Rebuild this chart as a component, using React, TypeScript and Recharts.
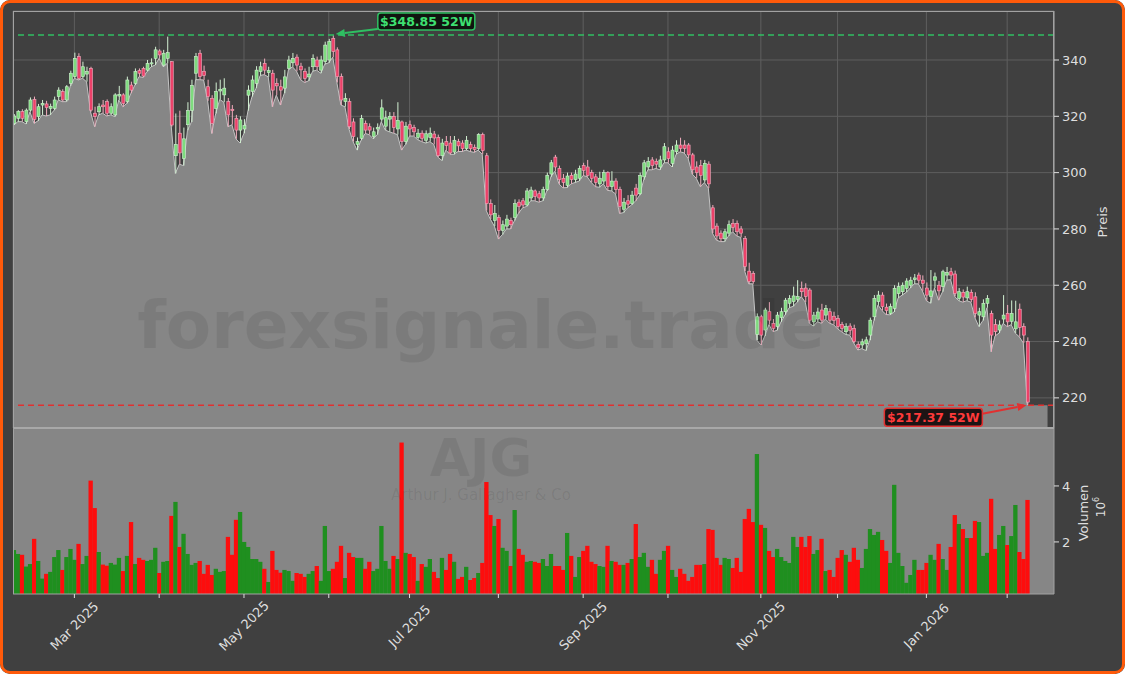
import React from 'react'
import {
  ComposedChart,
  Bar,
  Area,
  XAxis,
  YAxis,
  CartesianGrid,
  ReferenceLine,
  ReferenceDot,
  ReferenceArea,
} from 'recharts'

// trading calendar
const FIRST_DAY = '2025-02-07'
const LAST_DAY = '2026-02-09'
const HOLIDAYS = [
  '2025-02-17', '2025-04-18', '2025-05-26', '2025-06-19', '2025-07-04',
  '2025-09-01', '2025-11-27', '2025-12-25', '2026-01-01', '2026-01-19',
]
const MONTHS = ['Jan', 'Feb', 'Mar', 'Apr', 'May', 'Jun', 'Jul', 'Aug', 'Sep', 'Oct', 'Nov', 'Dec']

// daily OHLC (USD)
const opens = [
  317.5, 319.3, 321.7, 318.1, 322.2, 326.0, 319.9, 324.0, 324.4, 322.8,
  322.8, 327.0, 328.8, 325.8, 331.7, 334.1, 341.2, 334.1, 335.0, 337.0,
  321.1, 321.6, 324.0, 325.2, 321.1, 320.5, 327.2, 327.6, 325.2, 331.1,
  331.7, 336.2, 337.0, 336.4, 338.6, 340.6, 343.2, 338.2, 340.6, 339.4,
  306.0, 314.0, 305.0, 317.0, 322.0, 335.3, 342.4, 336.0, 330.5, 326.4,
  322.8, 329.0, 327.6, 325.2, 322.5, 319.3, 315.1, 315.5, 327.5, 328.8,
  331.7, 335.9, 338.8, 335.5, 335.3, 331.7, 330.5, 330.0, 337.0, 339.0,
  341.0, 337.8, 335.9, 334.0, 337.6, 340.0, 336.4, 339.4, 340.0, 347.7,
  343.6, 334.1, 325.2, 325.2, 318.0, 310.0, 312.2, 317.5, 316.3, 312.8,
  315.5, 319.0, 316.5, 319.0, 320.0, 315.5, 318.0, 311.0, 317.0, 316.0,
  312.5, 314.0, 311.5, 312.5, 313.7, 312.5, 306.0, 311.0, 310.5, 307.3,
  311.0, 310.5, 308.5, 310.0, 309.0, 308.5, 313.5, 306.0, 289.0, 283.0,
  284.0, 279.5, 281.0, 283.0, 284.0, 289.5, 290.0, 288.5, 291.0, 293.5,
  292.5, 291.0, 294.0, 299.5, 305.5, 301.5, 298.0, 295.5, 299.0, 297.5,
  298.0, 302.5, 302.0, 300.0, 298.5, 296.0, 297.0, 300.0, 295.0, 297.0,
  294.0, 287.0, 290.0, 289.0, 294.5, 292.5, 298.5, 302.0, 304.5, 304.0,
  302.0, 304.5, 307.4, 303.3, 307.4, 309.8, 309.8, 309.8, 306.3, 302.0,
  302.5, 297.4, 303.0, 287.5, 281.0, 278.5, 276.5, 278.5, 282.0, 282.0,
  280.0, 276.6, 265.0, 264.2, 242.5, 248.8, 244.1, 250.6, 246.4, 245.3,
  248.5, 250.6, 253.6, 254.2, 255.0, 258.9, 259.0, 258.3, 247.0, 248.0,
  251.2, 249.4, 250.6, 249.0, 248.2, 246.0, 243.5, 245.5, 244.7, 239.0,
  238.8, 239.2, 242.3, 248.8, 254.2, 256.5, 252.2, 250.0, 251.8, 257.0,
  257.7, 258.9, 260.0, 262.0, 263.6, 261.8, 259.0, 256.0, 261.8, 260.0,
  259.5, 263.6, 264.8, 264.0, 255.3, 257.5, 255.5, 257.5, 255.9, 249.4,
  248.8, 253.6, 250.0, 246.0, 244.1, 248.0, 250.0, 247.2, 244.5, 251.5,
  245.3, 240.0,
]

const highs = [
  320.8, 322.2, 322.5, 322.8, 326.7, 327.0, 324.4, 325.8, 325.5, 324.5,
  327.0, 330.3, 329.6, 331.1, 336.2, 342.6, 342.4, 339.4, 337.6, 337.6,
  323.4, 324.6, 325.8, 326.0, 324.6, 328.2, 330.8, 328.2, 334.1, 332.3,
  337.0, 337.0, 337.6, 340.0, 340.6, 344.7, 343.8, 343.6, 348.3, 339.6,
  321.0, 322.0, 316.0, 325.0, 333.0, 342.5, 343.6, 338.0, 333.0, 327.5,
  332.0, 333.0, 333.5, 326.5, 324.0, 320.5, 320.0, 319.0, 331.0, 334.5,
  337.8, 339.4, 340.5, 337.6, 336.5, 333.5, 333.0, 336.5, 341.5, 342.5,
  342.0, 339.0, 337.0, 337.6, 342.0, 341.2, 341.5, 346.5, 347.5, 348.85,
  344.5, 335.2, 328.2, 326.4, 319.3, 312.5, 320.5, 318.5, 317.5, 316.0,
  317.5, 326.0, 322.0, 321.5, 321.5, 325.0, 318.5, 318.0, 318.5, 317.0,
  315.5, 315.0, 315.0, 316.0, 314.8, 313.5, 312.0, 313.0, 313.0, 313.0,
  312.0, 311.5, 313.0, 311.0, 310.0, 314.0, 314.2, 307.0, 290.5, 288.5,
  285.0, 283.0, 285.0, 284.0, 290.5, 290.5, 291.0, 294.5, 295.0, 294.0,
  293.5, 295.0, 300.0, 304.5, 306.3, 302.5, 299.5, 300.0, 300.0, 301.0,
  302.5, 303.5, 304.5, 301.0, 299.5, 300.3, 301.0, 300.5, 300.5, 298.0,
  295.0, 291.0, 292.0, 293.5, 296.0, 300.0, 304.5, 305.5, 305.5, 305.0,
  306.0, 310.5, 309.0, 309.5, 311.5, 312.4, 311.5, 310.5, 307.0, 304.0,
  304.5, 304.5, 304.0, 288.5, 282.0, 279.5, 280.0, 283.0, 283.5, 283.0,
  281.0, 277.5, 268.0, 265.0, 250.0, 249.5, 252.0, 254.0, 248.0, 250.5,
  252.0, 255.5, 256.5, 259.5, 261.8, 261.3, 260.7, 259.0, 250.5, 252.0,
  253.4, 253.0, 251.8, 250.6, 249.4, 247.0, 246.5, 246.5, 246.0, 240.0,
  241.0, 241.7, 248.5, 256.5, 258.0, 257.5, 253.5, 253.5, 260.0, 261.0,
  261.0, 262.5, 263.0, 264.0, 264.5, 263.5, 261.0, 265.4, 264.5, 261.5,
  265.5, 266.5, 266.2, 265.2, 259.0, 258.5, 259.5, 258.5, 257.5, 252.0,
  255.0, 256.5, 251.0, 248.0, 247.5, 256.5, 253.0, 254.6, 254.5, 253.5,
  246.5, 241.5,
]

const lows = [
  316.9, 318.1, 318.1, 317.3, 321.6, 317.5, 318.4, 320.5, 320.1, 320.5,
  322.2, 325.8, 325.2, 325.2, 330.8, 333.5, 332.9, 333.5, 332.3, 321.6,
  316.3, 320.5, 321.1, 320.1, 320.5, 319.9, 325.8, 323.4, 324.6, 328.2,
  331.1, 334.1, 333.8, 335.9, 337.6, 338.2, 340.6, 337.6, 338.8, 316.3,
  299.7, 303.0, 302.5, 315.0, 318.0, 333.0, 333.0, 332.9, 325.5, 313.9,
  321.0, 326.0, 325.0, 316.3, 317.0, 312.0, 310.5, 314.0, 322.0, 327.0,
  330.0, 334.5, 334.8, 334.0, 323.4, 327.5, 324.0, 328.2, 336.5, 337.6,
  336.0, 333.0, 332.0, 332.6, 336.0, 336.4, 335.3, 338.5, 339.0, 341.0,
  332.0, 324.0, 323.4, 315.5, 311.0, 308.0, 311.5, 313.9, 313.5, 312.0,
  313.5, 318.1, 315.1, 314.5, 314.0, 313.5, 308.0, 310.0, 313.0, 313.0,
  311.7, 311.0, 310.5, 311.0, 310.0, 305.5, 304.3, 308.0, 306.5, 306.5,
  307.5, 307.5, 308.0, 307.5, 307.2, 308.0, 306.5, 286.5, 283.5, 281.0,
  276.4, 278.0, 280.0, 280.0, 283.0, 285.6, 287.5, 288.0, 290.0, 290.0,
  289.5, 290.0, 293.5, 298.5, 300.5, 296.0, 294.6, 294.7, 296.0, 296.5,
  297.0, 299.0, 298.5, 296.5, 295.0, 294.8, 296.0, 293.7, 293.5, 292.5,
  285.5, 285.8, 287.5, 288.5, 290.0, 292.0, 297.5, 301.0, 301.0, 301.5,
  301.0, 303.5, 303.5, 302.0, 306.5, 307.4, 307.0, 305.0, 299.5, 298.0,
  295.0, 296.5, 294.5, 278.5, 276.0, 275.5, 275.5, 277.5, 279.0, 277.5,
  277.0, 265.0, 260.5, 260.5, 240.5, 238.8, 242.0, 246.0, 243.5, 244.0,
  247.0, 249.5, 252.0, 252.5, 254.0, 256.0, 254.0, 246.5, 245.5, 247.0,
  246.5, 248.0, 246.5, 246.0, 244.5, 243.5, 242.5, 242.3, 239.5, 237.0,
  237.5, 236.8, 240.5, 247.5, 253.0, 251.0, 249.6, 249.5, 250.5, 255.5,
  256.5, 257.5, 259.0, 260.5, 260.5, 258.0, 254.5, 253.6, 259.0, 254.7,
  257.7, 261.8, 262.0, 256.0, 254.5, 254.0, 254.5, 254.0, 248.5, 245.3,
  247.5, 252.0, 236.4, 242.0, 243.0, 246.5, 245.3, 246.0, 243.0, 241.7,
  239.5, 217.37,
]

const closes = [
  320.1, 321.7, 319.3, 322.2, 325.8, 318.9, 323.4, 324.6, 323.1, 323.5,
  325.8, 329.3, 325.8, 330.5, 335.3, 340.6, 333.5, 337.6, 336.0, 322.2,
  319.9, 323.4, 323.4, 321.1, 323.4, 327.6, 327.8, 324.6, 332.9, 329.3,
  335.9, 335.3, 334.3, 338.8, 339.0, 343.6, 341.8, 342.4, 342.6, 316.9,
  310.0, 307.0, 312.0, 322.0, 331.0, 341.2, 334.1, 334.5, 327.0, 317.5,
  328.8, 329.6, 330.0, 320.5, 322.0, 315.1, 318.7, 316.8, 329.3, 332.9,
  336.4, 337.6, 336.4, 336.2, 329.3, 330.8, 329.3, 334.0, 340.0, 340.6,
  338.2, 336.5, 333.5, 335.0, 340.6, 337.6, 340.0, 345.3, 346.5, 343.0,
  334.1, 325.8, 326.4, 316.3, 312.8, 311.0, 319.3, 315.1, 315.1, 314.5,
  316.0, 323.0, 319.5, 320.0, 316.0, 318.5, 311.0, 316.5, 315.5, 314.5,
  314.0, 312.2, 313.8, 314.0, 312.3, 306.0, 310.5, 309.6, 307.0, 311.5,
  309.5, 308.5, 311.5, 308.5, 308.2, 313.5, 307.8, 289.0, 285.0, 285.5,
  279.5, 281.5, 283.5, 281.5, 289.0, 288.0, 288.5, 293.5, 293.8, 291.5,
  291.0, 294.0, 299.0, 303.5, 302.0, 297.5, 296.5, 298.8, 297.5, 299.5,
  301.5, 300.8, 299.0, 298.0, 296.5, 298.0, 300.0, 295.0, 297.0, 294.0,
  288.0, 289.5, 288.8, 292.0, 292.0, 299.0, 303.5, 303.9, 302.5, 303.0,
  304.5, 309.2, 305.0, 308.0, 309.8, 308.6, 308.6, 306.3, 301.0, 300.0,
  299.0, 303.3, 296.0, 280.0, 277.5, 276.5, 279.0, 281.5, 280.5, 279.0,
  278.5, 266.6, 261.3, 261.3, 248.8, 242.3, 251.2, 247.6, 244.7, 249.4,
  250.6, 254.7, 255.3, 256.2, 256.0, 257.7, 256.0, 247.6, 249.4, 250.5,
  247.6, 251.8, 247.6, 247.5, 245.3, 244.7, 245.3, 244.0, 240.0, 237.8,
  239.9, 240.6, 247.6, 255.3, 256.5, 252.4, 251.0, 252.4, 258.9, 259.5,
  260.0, 261.5, 261.8, 262.6, 261.8, 260.7, 256.5, 258.0, 263.0, 258.0,
  264.8, 264.5, 263.6, 257.1, 257.7, 255.8, 257.7, 255.0, 250.0, 250.6,
  253.6, 255.3, 242.3, 243.5, 245.9, 249.4, 247.0, 250.0, 247.0, 245.0,
  242.3, 218.5,
]

// daily volume, millions of shares
const volumes = [
  1.71, 1.57, 1.54, 1.12, 1.21, 2.11, 1.32, 0.69, 0.86, 0.93,
  1.46, 1.71, 1.00, 1.46, 1.75, 1.36, 1.93, 1.21, 1.50, 4.19,
  3.21, 1.64, 1.19, 1.15, 1.25, 1.19, 1.43, 0.96, 1.50, 2.71,
  1.21, 1.43, 1.36, 1.32, 1.36, 1.79, 0.89, 1.29, 1.32, 2.93,
  3.43, 1.82, 2.29, 1.57, 1.18, 1.25, 1.32, 0.86, 1.18, 0.82,
  1.04, 0.93, 0.96, 2.18, 1.54, 2.79, 3.07, 2.00, 1.82, 1.39,
  1.39, 1.29, 1.04, 0.57, 1.68, 1.00, 0.90, 1.00, 0.96, 0.61,
  0.89, 0.86, 0.75, 0.86, 0.96, 1.14, 0.61, 2.57, 0.96, 1.04,
  1.29, 1.86, 0.71, 1.61, 1.46, 1.43, 1.43, 1.04, 1.29, 0.96,
  1.04, 2.57, 1.32, 1.04, 1.50, 1.39, 5.55, 1.61, 1.57, 1.46,
  0.61, 1.21, 1.11, 1.39, 0.93, 0.71, 1.43, 1.00, 1.57, 1.29,
  0.68, 0.75, 1.11, 0.64, 0.71, 0.89, 1.25, 4.14, 2.96, 2.57,
  2.82, 1.79, 1.68, 1.14, 3.14, 1.75, 1.54, 1.29, 1.32, 1.29,
  1.25, 1.39, 1.14, 1.57, 1.14, 1.14, 1.00, 2.32, 1.50, 0.75,
  1.46, 1.68, 1.86, 1.29, 1.21, 1.14, 1.11, 1.86, 1.32, 1.29,
  1.18, 1.18, 1.25, 1.39, 2.64, 1.46, 1.61, 1.11, 1.36, 0.86,
  1.36, 1.68, 1.86, 1.00, 0.75, 1.04, 0.86, 0.61, 0.75, 1.18,
  1.18, 1.21, 2.46, 2.43, 1.43, 1.18, 1.43, 1.39, 1.07, 1.43,
  0.93, 2.82, 3.18, 2.71, 5.14, 2.61, 2.50, 1.68, 1.46, 1.75,
  1.46, 1.32, 1.25, 2.18, 1.82, 2.18, 1.82, 2.21, 1.57, 1.71,
  2.11, 0.96, 1.00, 0.75, 1.43, 1.71, 1.54, 1.29, 1.79, 1.36,
  1.07, 1.75, 2.46, 2.25, 2.36, 2.07, 1.68, 1.25, 4.04, 1.61,
  1.14, 0.54, 0.82, 1.36, 1.00, 1.00, 1.25, 1.54, 1.36, 1.93,
  1.39, 1.00, 1.82, 2.96, 2.64, 2.46, 2.14, 2.14, 2.75, 2.71,
  1.50, 1.61, 3.54, 1.75, 2.25, 2.57, 1.89, 2.21, 3.32, 1.64,
  1.39, 3.50,
]

const PRICE_TICKS = [220, 240, 260, 280, 300, 320, 340]
const VOLUME_TICKS = [2, 4]
const HIGH_52W = 348.85
const LOW_52W = 217.37

const BG = '#404040'
const FILL = '#868686'
const GRID = '#5e5e5e'
const SPINE = '#a2a2a2'
const TEXT = '#dedede'
const UP_BODY = '#7edc7e'
const UP_EDGE = '#d2f0d2'
const DOWN_BODY = '#ec4169'
const DOWN_EDGE = '#f2adbe'
const VOL_UP = '#1f8f1f'
const VOL_DOWN = '#fd0d0d'
const HIGH_COLOR = '#2fbf62'
const LOW_COLOR = '#e23030'

function tradingDays(from: string, to: string): string[] {
  const out: string[] = []
  const d = new Date(from + 'T00:00:00Z')
  const end = new Date(to + 'T00:00:00Z')
  while (d <= end) {
    const iso = d.toISOString().slice(0, 10)
    const wd = d.getUTCDay()
    if (wd !== 0 && wd !== 6 && !HOLIDAYS.includes(iso)) out.push(iso)
    d.setUTCDate(d.getUTCDate() + 1)
  }
  return out
}

const dates = tradingDays(FIRST_DAY, LAST_DAY)
const data = dates.map((date, i) => ({
  i,
  date,
  open: opens[i],
  high: highs[i],
  low: lows[i],
  close: closes[i],
  volume: volumes[i],
  range: [lows[i], highs[i]],
}))
const lastIdx = data.length - 1
const highIdx = highs.indexOf(Math.max(...highs))

const monthStarts = data
  .filter((d, i) => i > 0 && d.date.slice(5, 7) !== data[i - 1].date.slice(5, 7))
  .map((d) => d.i)

const X_DOMAIN = [-0.2, 257.6]
const PRICE_DOMAIN = [209.3, 357.4]
const VOLUME_DOMAIN = [0.14, 6.07]
const FONT = 'DejaVu Sans, sans-serif'

function Candle(props: any) {
  const { x, y, width, height, payload } = props
  if (!payload) return null
  const { open, close, high, low } = payload
  const top = Math.min(y, y + height)
  const h = Math.abs(height)
  const up = close >= open
  const pxPer = h / Math.max(high - low, 0.01)
  const yO = top + (high - open) * pxPer
  const yC = top + (high - close) * pxPer
  const cx = x + width / 2
  return (
    <g>
      <line x1={cx} x2={cx} y1={top} y2={top + h} stroke={up ? UP_EDGE : DOWN_EDGE} strokeWidth={1} />
      <rect
        x={x}
        y={Math.min(yO, yC)}
        width={width}
        height={Math.max(Math.abs(yO - yC), 0.8)}
        fill={up ? UP_BODY : DOWN_BODY}
        stroke={up ? UP_EDGE : DOWN_EDGE}
        strokeWidth={0.6}
      />
    </g>
  )
}

function VolumeBar(props: any) {
  const { x, y, width, height, payload } = props
  if (!payload) return null
  return (
    <rect
      x={x}
      y={Math.min(y, y + height)}
      width={width + 0.3}
      height={Math.abs(height)}
      fill={payload.close >= payload.open ? VOL_UP : VOL_DOWN}
    />
  )
}

// keeps the axis ticks (for the grid) without drawing labels
function NoTick() {
  return <g />
}

function Arrow({ x1, y1, x2, y2, color }: any) {
  const ang = Math.atan2(y2 - y1, x2 - x1)
  const len = 9
  const w = 4
  const bx = x2 - len * Math.cos(ang)
  const by = y2 - len * Math.sin(ang)
  const px = -Math.sin(ang) * w
  const py = Math.cos(ang) * w
  return (
    <g>
      <line x1={x1} y1={y1} x2={bx} y2={by} stroke={color} strokeWidth={2} />
      <polygon points={`${x2},${y2} ${bx + px},${by + py} ${bx - px},${by - py}`} fill={color} />
    </g>
  )
}

function HighMarker(props: any) {
  const { cx, cy } = props
  const bx = cx + 45
  const by = cy - 22
  return (
    <g>
      <Arrow x1={bx} y1={cy - 6} x2={cx + 3} y2={cy - 1} color={HIGH_COLOR} />
      <rect x={bx} y={by} width={97} height={17} rx={3} fill="#101510" stroke={HIGH_COLOR} strokeWidth={1.5} />
      <text x={bx + 48.5} y={by + 13} textAnchor="middle" fontFamily={FONT} fontWeight="bold" fontSize={12.5} fill="#3ee072">
        {`$${HIGH_52W.toFixed(2)} 52W`}
      </text>
    </g>
  )
}

function LowMarker(props: any) {
  const { cx, cy } = props
  const bx = cx - 143
  const by = cy + 3
  return (
    <g>
      <Arrow x1={cx - 45} y1={cy + 8.5} x2={cx - 1} y2={cy} color={LOW_COLOR} />
      <rect x={bx} y={by} width={98} height={18} rx={3} fill="#1c1414" stroke={LOW_COLOR} strokeWidth={1.5} />
      <text x={bx + 49} y={by + 13.5} textAnchor="middle" fontFamily={FONT} fontWeight="bold" fontSize={12.5} fill="#ff3a3a">
        {`$${LOW_52W.toFixed(2)} 52W`}
      </text>
    </g>
  )
}

function MonthTick(props: any) {
  const { x, y, payload } = props
  const d = dates[payload.value]
  if (!d) return <g />
  const m = Number(d.slice(5, 7))
  if (m % 2 === 0) return <g />
  const label = `${MONTHS[m - 1]} ${d.slice(0, 4)}`
  const ly = y + 26
  return (
    <text
      x={x}
      y={ly}
      transform={`rotate(-45 ${x} ${ly})`}
      textAnchor="middle"
      dominantBaseline="central"
      fontFamily={FONT}
      fontSize={13}
      fill={TEXT}
    >
      {label}
    </text>
  )
}

export default function App() {
  return (
    <div
      style={{
        position: 'absolute',
        left: 0,
        top: 0,
        width: 1125,
        height: 674,
        background: BG,
        borderRadius: 10,
        overflow: 'hidden',
        fontFamily: FONT,
      }}
    >
      <div style={{ position: 'absolute', left: 0, top: 0 }}>
        <ComposedChart width={1125} height={440} data={data} margin={{ top: 11, right: 11, bottom: 12, left: 13 }}>
          <CartesianGrid stroke={GRID} strokeWidth={1} fill={BG} />
          <XAxis
            type="number"
            dataKey="i"
            domain={X_DOMAIN}
            allowDataOverflow
            ticks={monthStarts}
            interval={0}
            height={0}
            tick={<NoTick />}
            tickLine={false}
            axisLine={false}
          />
          <YAxis
            orientation="right"
            width={60}
            domain={PRICE_DOMAIN}
            allowDataOverflow
            ticks={PRICE_TICKS}
            interval={0}
            tick={{ fill: TEXT, fontSize: 13, fontFamily: FONT }}
            tickLine={{ stroke: TEXT }}
            tickSize={5}
            tickMargin={3}
            axisLine={{ stroke: SPINE }}
          />
          <Area
            type="linear"
            dataKey="low"
            stroke="#c4c4c4"
            strokeWidth={1}
            fill={FILL}
            fillOpacity={1}
            dot={false}
            activeDot={false}
            isAnimationActive={false}
          />
          <ReferenceArea x1={lastIdx - 0.3} x2={256} y1={PRICE_DOMAIN[0]} y2={LOW_52W} fill={FILL} fillOpacity={1} stroke="none" />
          <Bar dataKey="range" barSize={3} shape={<Candle />} isAnimationActive={false} />
          <ReferenceLine y={HIGH_52W} stroke={HIGH_COLOR} strokeDasharray="6 4" strokeWidth={1.5} />
          <ReferenceLine y={LOW_52W} stroke={LOW_COLOR} strokeDasharray="6 4" strokeWidth={1.5} />
          <ReferenceDot x={highIdx} y={HIGH_52W} shape={<HighMarker />} />
          <ReferenceDot x={lastIdx} y={LOW_52W} shape={<LowMarker />} />
        </ComposedChart>
      </div>

      <div style={{ position: 'absolute', left: 0, top: 428 }}>
        <ComposedChart width={1125} height={246} data={data} margin={{ top: 0, right: 11, bottom: 0, left: 13 }}>
          <CartesianGrid horizontal={false} vertical={false} fill={FILL} />
          <XAxis
            type="number"
            dataKey="i"
            domain={X_DOMAIN}
            allowDataOverflow
            ticks={monthStarts}
            interval={0}
            height={80}
            tick={<MonthTick />}
            tickLine={{ stroke: TEXT }}
            tickSize={4}
            tickMargin={2}
            axisLine={{ stroke: SPINE }}
          />
          <YAxis
            orientation="right"
            width={60}
            domain={VOLUME_DOMAIN}
            allowDataOverflow
            ticks={VOLUME_TICKS}
            interval={0}
            tick={{ fill: TEXT, fontSize: 13, fontFamily: FONT }}
            tickLine={{ stroke: TEXT }}
            tickSize={5}
            tickMargin={3}
            axisLine={{ stroke: SPINE }}
          />
          <Bar dataKey="volume" barSize={4} shape={<VolumeBar />} isAnimationActive={false} />
        </ComposedChart>
      </div>

      <svg width={1125} height={674} style={{ position: 'absolute', left: 0, top: 0, pointerEvents: 'none' }}>
        <text x={481} y={348} textAnchor="middle" fontFamily={FONT} fontWeight="bold" fontSize={66} fill="rgba(0,0,0,0.08)">
          forexsignale.trade
        </text>
        <text x={481} y={476} textAnchor="middle" fontFamily={FONT} fontWeight="bold" fontSize={52} fill="rgba(0,0,0,0.08)">
          AJG
        </text>
        <text x={481} y={500} textAnchor="middle" fontFamily={FONT} fontSize={15} fill="rgba(0,0,0,0.08)">
          Arthur J. Gallagher &amp; Co
        </text>
        <rect x={13.5} y={11.5} width={1040} height={416.5} fill="none" stroke={SPINE} strokeWidth={1} />
        <line x1={13} x2={1054} y1={428} y2={428} stroke="#a8a8a8" strokeWidth={2} />
        <line x1={13.5} x2={13.5} y1={428} y2={594} stroke={SPINE} strokeWidth={1} />
        <text x={1102} y={222} transform="rotate(-90 1102 222)" textAnchor="middle" dominantBaseline="central" fontFamily={FONT} fontSize={13} fill={TEXT}>
          Preis
        </text>
        <text x={1083} y={513} transform="rotate(-90 1083 513)" textAnchor="middle" dominantBaseline="central" fontFamily={FONT} fontSize={13} fill={TEXT}>
          Volumen
        </text>
        <text x={1101} y={507} transform="rotate(-90 1101 507)" textAnchor="middle" dominantBaseline="central" fontFamily={FONT} fontSize={12} fill={TEXT}>
          10<tspan dy={-5} fontSize={8}>6</tspan>
        </text>
      </svg>

      <div
        style={{
          position: 'absolute',
          inset: 0,
          border: '3px solid #ff5a0a',
          borderRadius: 10,
          pointerEvents: 'none',
        }}
      />
    </div>
  )
}
